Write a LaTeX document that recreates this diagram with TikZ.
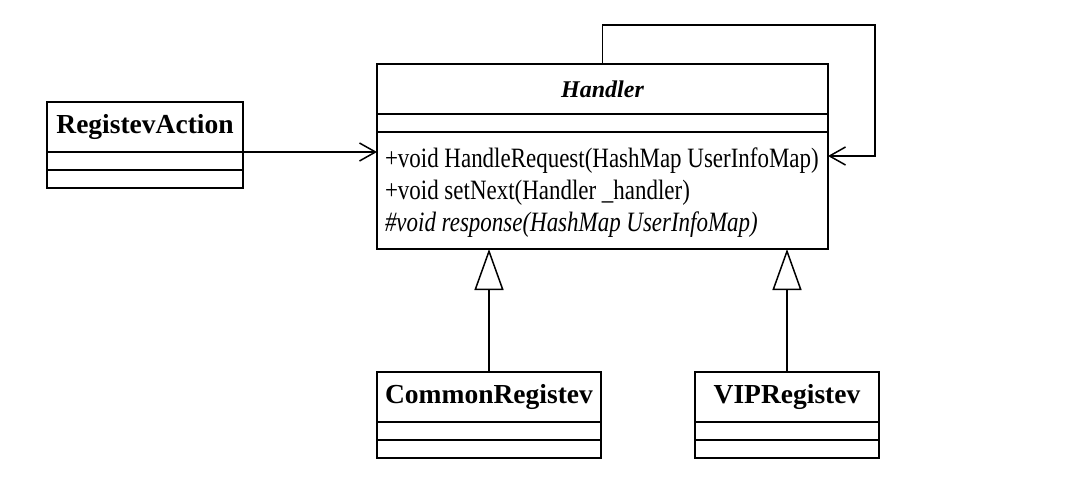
\documentclass[tikz,border=0pt]{standalone}
\usepackage{fontspec}
\setmainfont{Liberation Serif}
\newfontfamily\methfont[FakeStretch=0.82]{Liberation Serif}
\usetikzlibrary{arrows.meta,positioning}

\begin{document}
\begin{tikzpicture}
	[
	 x = 1pt, y = -1pt,
	 line width = 1.5pt,
	 every node/.style = {shape=rectangle,
		                  draw,
		                  inner sep = 0pt,
		                  outer sep = 0pt,
		                  line width = 1.5pt
	                     },
	 cname/.style = {minimum height = 50pt,
	 	font = \fontsize{27.5}{27.5}\selectfont\bfseries},
	 slot/.style  = {minimum height = 18pt},
	 ops/.style   = {draw = none,
	 	anchor = west,
	 	align = left,
	 	font = \methfont\fontsize{28}{32}\selectfont},
	 uses/.style  = {-{Straight Barb[length=16pt,width=18pt]}},
	 isa/.style   = {-{Triangle[open,length=41pt,width=29pt]}}
	]
	
	\useasboundingbox (0,0) rectangle (1082,492);
	
	\newcommand{\HRM}{+void HandleRequest(HashMap UserInfoMap)}
	\newcommand{\SNH}{+void setNext(Handler \_handler)}
	\newcommand{\RSM}{{\itshape\#void response(HashMap UserInfoMap)}}
	
	% Handler
	\node [cname, minimum width = 451pt,
	       font = \fontsize{24}{24}\selectfont\bfseries\itshape] (Hd) at (602.5,89) {Handler};
	\node [slot, minimum width = 451pt, below = 0pt of Hd]  (Hd1) {};
	\node [minimum width = 451pt, minimum height = 117pt, below = 0pt of Hd1] (Hd2) {};
	\node [ops] (Ops) at ([xshift=8pt,yshift=-2pt]Hd2.west) {\HRM\\ \SNH\\ \RSM};
	
	% RegistevAction
	\node [cname, minimum width = 196pt] (RA) at (145,127) {RegistevAction};
	\node [slot, minimum width = 196pt, below = 0pt of RA]  (RA1) {};
	\node [slot, minimum width = 196pt, below = 0pt of RA1] (RA2) {};
	
	% subclasses
	\node [cname, minimum width = 224pt] (CR) at (489,397) {CommonRegistev};
	\node [slot, minimum width = 224pt, below = 0pt of CR]  (CR1) {};
	\node [slot, minimum width = 224pt, below = 0pt of CR1] (CR2) {};
	
	\node [cname, minimum width = 184pt] (VR) at (787,397) {VIPRegistev};
	\node [slot, minimum width = 184pt, below = 0pt of VR]  (VR1) {};
	\node [slot, minimum width = 184pt, below = 0pt of VR1] (VR2) {};
	
	% connectors
	\coordinate (top)  at (875,25);
	\coordinate (back) at ([yshift=-24pt]Hd2.north east);
	\draw [uses] (RA.south east) -- (RA.south east -| Hd2.west);
	\draw [uses] (Hd.north) |- (top) |- (back);
	\draw [isa]  (CR.north) -- (CR.north |- Hd2.south);
	\draw [isa]  (VR.north) -- (VR.north |- Hd2.south);
\end{tikzpicture}
\end{document}
